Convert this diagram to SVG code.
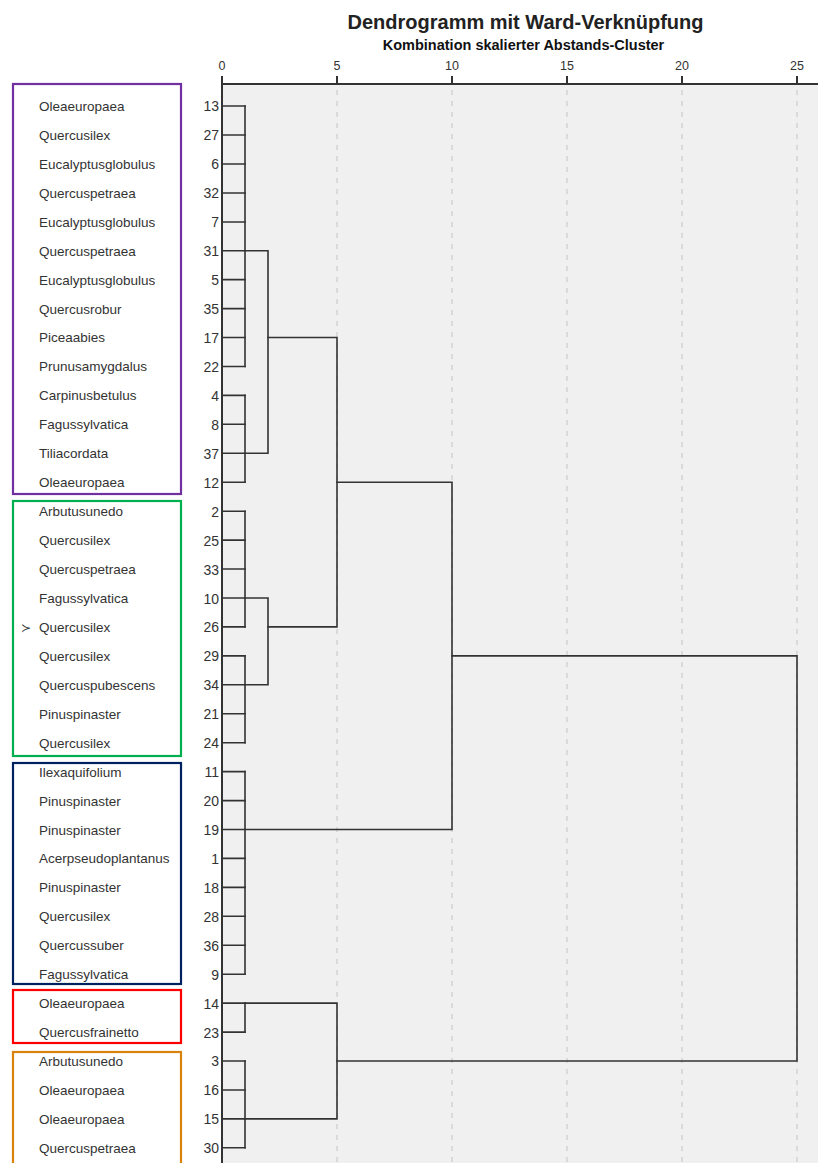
<svg xmlns="http://www.w3.org/2000/svg" width="818" height="1163" viewBox="0 0 818 1163">
<style>
.lbl{font-family:"Liberation Sans",Arial,sans-serif;font-size:13.5px;fill:#333}
.num{font-family:"Liberation Sans",Arial,sans-serif;font-size:14px;fill:#333;text-anchor:end}
.ax{font-family:"Liberation Sans",Arial,sans-serif;font-size:12.5px;fill:#333;text-anchor:middle}
.tr{stroke:#333;stroke-width:1.6;fill:none;stroke-linecap:square}
.grid{stroke:#d2d2d2;stroke-width:1.5;stroke-dasharray:5 6}
.box{fill:none;stroke-width:2.2}
</style>
<rect width="818" height="1163" fill="#fff"/>
<rect x="222" y="84" width="596" height="1079" fill="#f0f0f0"/>
<g id="title">
<text x="525.5" y="29" text-anchor="middle" font-family="Liberation Sans, Arial, sans-serif" font-size="20" font-weight="bold" fill="#222">Dendrogramm mit Ward-Verknüpfung</text>
<text x="523.5" y="50" text-anchor="middle" font-family="Liberation Sans, Arial, sans-serif" font-size="14.5" font-weight="bold" fill="#111">Kombination skalierter Abstands-Cluster</text>
</g>
<g id="grid">
<line class="grid" x1="337" y1="90" x2="337" y2="1163"/>
<line class="grid" x1="452" y1="90" x2="452" y2="1163"/>
<line class="grid" x1="567" y1="90" x2="567" y2="1163"/>
<line class="grid" x1="682" y1="90" x2="682" y2="1163"/>
<line class="grid" x1="797" y1="90" x2="797" y2="1163"/>
</g>
<g id="axis">
<line x1="221" y1="84" x2="818" y2="84" stroke="#333" stroke-width="2"/>
<line x1="222" y1="76" x2="222" y2="1163" stroke="#333" stroke-width="2"/>
<g stroke="#333" stroke-width="2">
<line x1="337" y1="76" x2="337" y2="84"/>
<line x1="452" y1="76" x2="452" y2="84"/>
<line x1="567" y1="76" x2="567" y2="84"/>
<line x1="682" y1="76" x2="682" y2="84"/>
<line x1="797" y1="76" x2="797" y2="84"/>
</g>
<text class="ax" x="222" y="70">0</text>
<text class="ax" x="337" y="70">5</text>
<text class="ax" x="452" y="70">10</text>
<text class="ax" x="567" y="70">15</text>
<text class="ax" x="682" y="70">20</text>
<text class="ax" x="797" y="70">25</text>
</g>
<g id="groups">
<rect id="box-purple" class="box" x="13" y="84" width="168" height="410" stroke="#7030a0"/>
<rect id="box-green" class="box" x="13" y="501" width="168" height="255" stroke="#00b050"/>
<rect id="box-navy" class="box" x="13" y="763" width="168" height="221" stroke="#002060"/>
<rect id="box-red" class="box" x="13" y="990" width="168" height="53" stroke="#ff0000"/>
<rect id="box-orange" class="box" x="13" y="1052" width="168" height="130" stroke="#d9830f"/>
</g>
<g id="leaves">
<g id="leaf-13"><text class="lbl" x="39" y="110.5">Oleaeuropaea</text><text class="num" x="219" y="111">13</text></g>
<g id="leaf-27"><text class="lbl" x="39" y="139.5">Quercusilex</text><text class="num" x="219" y="140">27</text></g>
<g id="leaf-6"><text class="lbl" x="39" y="168.5">Eucalyptusglobulus</text><text class="num" x="219" y="169">6</text></g>
<g id="leaf-32"><text class="lbl" x="39" y="197.5">Quercuspetraea</text><text class="num" x="219" y="198">32</text></g>
<g id="leaf-7"><text class="lbl" x="39" y="226.5">Eucalyptusglobulus</text><text class="num" x="219" y="227">7</text></g>
<g id="leaf-31"><text class="lbl" x="39" y="255.5">Quercuspetraea</text><text class="num" x="219" y="256">31</text></g>
<g id="leaf-5"><text class="lbl" x="39" y="284.5">Eucalyptusglobulus</text><text class="num" x="219" y="285">5</text></g>
<g id="leaf-35"><text class="lbl" x="39" y="313.5">Quercusrobur</text><text class="num" x="219" y="314">35</text></g>
<g id="leaf-17"><text class="lbl" x="39" y="342">Piceaabies</text><text class="num" x="219" y="342.5">17</text></g>
<g id="leaf-22"><text class="lbl" x="39" y="371">Prunusamygdalus</text><text class="num" x="219" y="371.5">22</text></g>
<g id="leaf-4"><text class="lbl" x="39" y="400">Carpinusbetulus</text><text class="num" x="219" y="400.5">4</text></g>
<g id="leaf-8"><text class="lbl" x="39" y="429">Fagussylvatica</text><text class="num" x="219" y="429.5">8</text></g>
<g id="leaf-37"><text class="lbl" x="39" y="458">Tiliacordata</text><text class="num" x="219" y="458.5">37</text></g>
<g id="leaf-12"><text class="lbl" x="39" y="487">Oleaeuropaea</text><text class="num" x="219" y="487.5">12</text></g>
<g id="leaf-2"><text class="lbl" x="39" y="516">Arbutusunedo</text><text class="num" x="219" y="516.5">2</text></g>
<g id="leaf-25"><text class="lbl" x="39" y="545">Quercusilex</text><text class="num" x="219" y="545.5">25</text></g>
<g id="leaf-33"><text class="lbl" x="39" y="574">Quercuspetraea</text><text class="num" x="219" y="574.5">33</text></g>
<g id="leaf-10"><text class="lbl" x="39" y="603">Fagussylvatica</text><text class="num" x="219" y="603.5">10</text></g>
<g id="leaf-26"><text x="21" y="631.5" font-family="DejaVu Sans, sans-serif" font-size="12" fill="#333">≻</text><text class="lbl" x="39" y="631.5">Quercusilex</text><text class="num" x="219" y="632">26</text></g>
<g id="leaf-29"><text class="lbl" x="39" y="660.5">Quercusilex</text><text class="num" x="219" y="661">29</text></g>
<g id="leaf-34"><text class="lbl" x="39" y="689.5">Quercuspubescens</text><text class="num" x="219" y="690">34</text></g>
<g id="leaf-21"><text class="lbl" x="39" y="718.5">Pinuspinaster</text><text class="num" x="219" y="719">21</text></g>
<g id="leaf-24"><text class="lbl" x="39" y="747.5">Quercusilex</text><text class="num" x="219" y="748">24</text></g>
<g id="leaf-11"><text class="lbl" x="39" y="776.5">Ilexaquifolium</text><text class="num" x="219" y="777">11</text></g>
<g id="leaf-20"><text class="lbl" x="39" y="805.5">Pinuspinaster</text><text class="num" x="219" y="806">20</text></g>
<g id="leaf-19"><text class="lbl" x="39" y="834.5">Pinuspinaster</text><text class="num" x="219" y="835">19</text></g>
<g id="leaf-1"><text class="lbl" x="39" y="863">Acerpseudoplantanus</text><text class="num" x="219" y="863.5">1</text></g>
<g id="leaf-18"><text class="lbl" x="39" y="892">Pinuspinaster</text><text class="num" x="219" y="892.5">18</text></g>
<g id="leaf-28"><text class="lbl" x="39" y="921">Quercusilex</text><text class="num" x="219" y="921.5">28</text></g>
<g id="leaf-36"><text class="lbl" x="39" y="950">Quercussuber</text><text class="num" x="219" y="950.5">36</text></g>
<g id="leaf-9"><text class="lbl" x="39" y="979">Fagussylvatica</text><text class="num" x="219" y="979.5">9</text></g>
<g id="leaf-14"><text class="lbl" x="39" y="1008">Oleaeuropaea</text><text class="num" x="219" y="1008.5">14</text></g>
<g id="leaf-23"><text class="lbl" x="39" y="1037">Quercusfrainetto</text><text class="num" x="219" y="1037.5">23</text></g>
<g id="leaf-3"><text class="lbl" x="39" y="1065.5">Arbutusunedo</text><text class="num" x="219" y="1066">3</text></g>
<g id="leaf-16"><text class="lbl" x="39" y="1094.5">Oleaeuropaea</text><text class="num" x="219" y="1095">16</text></g>
<g id="leaf-15"><text class="lbl" x="39" y="1123.5">Oleaeuropaea</text><text class="num" x="219" y="1124">15</text></g>
<g id="leaf-30"><text class="lbl" x="39" y="1152.5">Quercuspetraea</text><text class="num" x="219" y="1153">30</text></g>
</g>
<g id="connectors" class="tr">
<path d="M222 106H245M222 135H245M222 164H245M222 193H245M222 222H245M222 250.7H245M222 279.6H245M222 308.6H245M222 337.5H245M222 366.5H245M222 395.4H245M222 424.3H245M222 453.3H245M222 482.2H245M222 511.2H245M222 540.1H245M222 569H245M222 598H245M222 626.9H245M222 655.9H245M222 684.8H245M222 713.7H245M222 742.7H245M222 771.6H245M222 800.6H245M222 829.5H245M222 858.4H245M222 887.4H245M222 916.3H245M222 945.3H245M222 974.2H245M222 1003.1H245M222 1032.1H245M222 1061H245M222 1090H245M222 1118.9H245M222 1147.8H245"/>
<path d="M245 106V366.5M245 395.4V482.2M245 511.2V626.9M245 655.9V742.7M245 771.6V974.2M245 1003.1V1032.1M245 1061V1147.8"/>
<path d="M245 250.7H268V453.3H245"/>
<path d="M245 598H268V684.8H245"/>
<path d="M268 337.5H337V626.9H268"/>
<path d="M337 482.2H452V829.5H245"/>
<path d="M245 1003.1H337V1118.9H245"/>
<path d="M452 655.9H797V1061H337"/>
</g>
</svg>
